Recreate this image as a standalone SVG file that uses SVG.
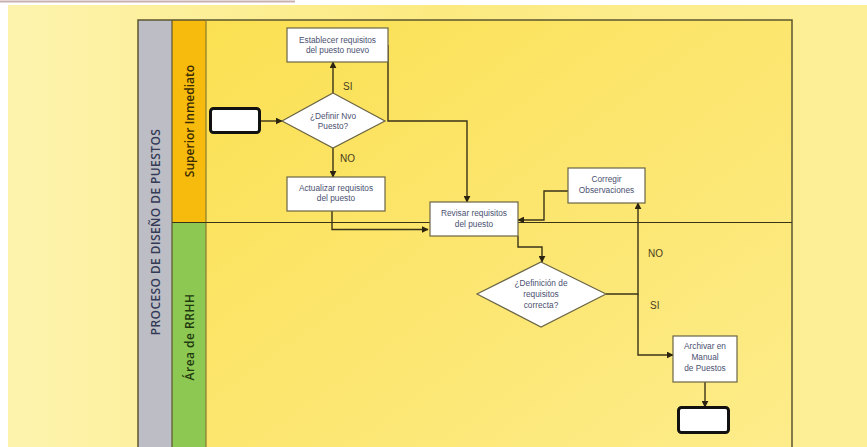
<svg xmlns="http://www.w3.org/2000/svg" width="867" height="447" viewBox="0 0 867 447">
  <defs>
    <linearGradient id="page" x1="0" y1="0" x2="1" y2="0">
      <stop offset="0" stop-color="#fdf3ad"/>
      <stop offset="0.5" stop-color="#fcea80"/>
      <stop offset="1" stop-color="#fdef98"/>
    </linearGradient>
    <linearGradient id="laneFill" x1="0" y1="0" x2="1" y2="1">
      <stop offset="0" stop-color="#fbe052"/>
      <stop offset="0.6" stop-color="#fce774"/>
      <stop offset="1" stop-color="#fdec8a"/>
    </linearGradient>
    <marker id="arr" viewBox="0 0 10 10" refX="9" refY="5" markerWidth="5" markerHeight="5" orient="auto">
      <path d="M0,0 L10,5 L0,10 z" fill="#2a2410"/>
    </marker>
    <style>
      .flow { fill: none; stroke: #3a3318; stroke-width: 1.4; }
      .box { fill: #ffffff; stroke: #6b6546; stroke-width: 1.2; }
      .term { fill: #ffffff; stroke: #111111; stroke-width: 3; }
      .lbl { font-family: "Liberation Sans", Arial, sans-serif; font-size: 8.3px; fill: #4a5070; text-anchor: middle; }
      .yn { font-family: "Liberation Sans", Arial, sans-serif; font-size: 10px; fill: #4a4020; }
      .lane { font-family: "Open Sans", "Liberation Sans", sans-serif; font-size: 12px; font-weight: 600; text-anchor: middle; }
    </style>
  </defs>

  <!-- page -->
  <rect x="0" y="0" width="867" height="447" fill="#ffffff"/>
  <rect x="8" y="5" width="859" height="442" fill="url(#page)"/>
  <line x1="0" y1="1.5" x2="295" y2="1.5" stroke="#c8b0b0" stroke-width="2"/>

  <!-- pool and lanes -->
  <g id="pool">
    <rect x="206" y="20" width="586" height="427" fill="url(#laneFill)"/>
    <rect x="138" y="20" width="34" height="427" fill="#bdbdc6"/>
    <rect x="172" y="20" width="34" height="202" fill="#f6bb0c"/>
    <rect x="172" y="222" width="34" height="225" fill="#8dc852"/>
    <rect x="138" y="20" width="654" height="430" fill="none" stroke="#5c5530" stroke-width="1.5"/>
    <line x1="172" y1="20" x2="172" y2="447" stroke="#5c5530" stroke-width="1.2"/>
    <line x1="206" y1="20" x2="206" y2="447" stroke="#8a7a30" stroke-width="1.2"/>
    <line x1="172" y1="222.5" x2="792" y2="222.5" stroke="#3a3318" stroke-width="1.2"/>
    <text class="lane" fill="#333a55" font-size="11.5" letter-spacing="0.4" transform="translate(159.5 232) rotate(-90)">PROCESO  DE DISEÑO  DE PUESTOS</text>
    <text class="lane" fill="#3a2a00" transform="translate(193.5 121) rotate(-90)">Superior Inmediato</text>
    <text class="lane" fill="#1f3a10" font-size="12.5" letter-spacing="0.5" transform="translate(193.5 337) rotate(-90)">Área de RRHH</text>
  </g>

  <!-- connectors -->
  <g id="connectors">
    <line class="flow" x1="260" y1="121" x2="282" y2="121" marker-end="url(#arr)"/>
    <line class="flow" x1="333" y1="93" x2="333" y2="62" marker-end="url(#arr)"/>
    <line class="flow" x1="333" y1="148" x2="333" y2="177" marker-end="url(#arr)"/>
    <polyline class="flow" points="388,45 388,121 467,121 467,202" marker-end="url(#arr)"/>
    <polyline class="flow" points="332,211 332,229.5 428,229.5" marker-end="url(#arr)"/>
    <polyline class="flow" points="518,236 518,247 542,247 542,262" marker-end="url(#arr)"/>
    <polyline class="flow" points="568,191 544,191 544,220 518,220" marker-end="url(#arr)"/>
    <polyline class="flow" points="606,294 638,294 638,203" marker-end="url(#arr)"/>
    <polyline class="flow" points="638,294 638,355 673,355" marker-end="url(#arr)"/>
    <line class="flow" x1="705" y1="382" x2="705" y2="407" marker-end="url(#arr)"/>
    <text class="yn" x="343" y="90">SI</text>
    <text class="yn" x="340" y="162">NO</text>
    <text class="yn" x="648" y="257">NO</text>
    <text class="yn" x="650" y="309">SI</text>
  </g>

  <g id="start">
    <rect class="term" x="210.5" y="108.5" width="49" height="24" rx="3"/>
  </g>

  <g id="decision-nuevo">
    <polygon class="box" points="333,93 385,121 333,148 282,121"/>
    <text class="lbl" x="333" y="119">¿Definir Nvo</text>
    <text class="lbl" x="333" y="129">Puesto?</text>
  </g>

  <g id="establecer">
    <rect class="box" x="287" y="28" width="101" height="34"/>
    <text class="lbl" x="337.5" y="43">Establecer requisitos</text>
    <text class="lbl" x="337.5" y="53">del puesto nuevo</text>
  </g>

  <g id="actualizar">
    <rect class="box" x="287" y="177" width="98" height="34"/>
    <text class="lbl" x="336" y="191">Actualizar requisitos</text>
    <text class="lbl" x="336" y="201">del puesto</text>
  </g>

  <g id="revisar">
    <rect class="box" x="430" y="202" width="88" height="34"/>
    <text class="lbl" x="474" y="216">Revisar requisitos</text>
    <text class="lbl" x="474" y="227">del puesto</text>
  </g>

  <g id="corregir">
    <rect class="box" x="568" y="168" width="77" height="35"/>
    <text class="lbl" x="606.5" y="182">Corregir</text>
    <text class="lbl" x="606.5" y="193">Observaciones</text>
  </g>

  <g id="decision-correcta">
    <polygon class="box" points="541,262 606,294 541,327 477,294"/>
    <text class="lbl" x="541" y="286">¿Definición de</text>
    <text class="lbl" x="541" y="297">requisitos</text>
    <text class="lbl" x="541" y="308">correcta?</text>
  </g>

  <g id="archivar">
    <rect class="box" x="673" y="336" width="64" height="46"/>
    <text class="lbl" x="705" y="349">Archivar en</text>
    <text class="lbl" x="705" y="360">Manual</text>
    <text class="lbl" x="705" y="371">de Puestos</text>
  </g>

  <g id="end">
    <rect class="term" x="678.5" y="407.5" width="50" height="25" rx="3"/>
  </g>
</svg>
